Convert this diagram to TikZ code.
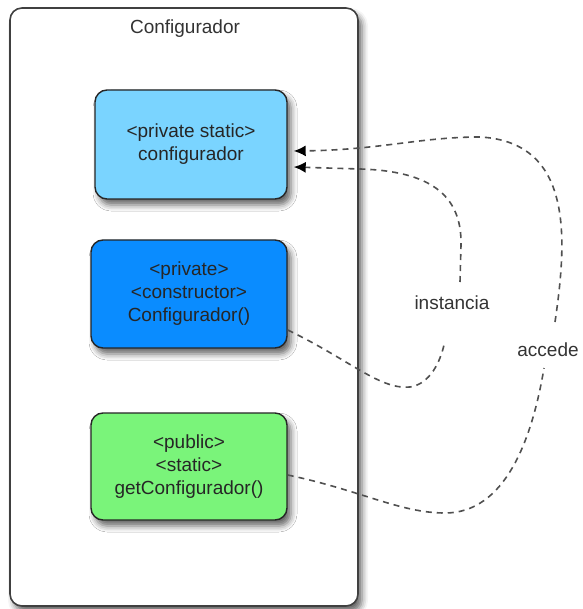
\documentclass[tikz,border=0pt]{standalone}
\usepackage{fontspec}
\setmainfont{Liberation Sans}
\usetikzlibrary{arrows.meta,shadows.blur}
\definecolor{azulClaro}{RGB}{122,212,255}
\definecolor{azulFuerte}{RGB}{10,140,255}
\definecolor{verdeClaro}{RGB}{122,244,122}
\definecolor{grisLinea}{RGB}{80,80,80}
\definecolor{grisTexto}{RGB}{51,51,51}
\tikzset{
  sombra/.style={blur shadow={shadow xshift=4pt, shadow yshift=-6pt,
      shadow blur radius=6pt, shadow opacity=60}},
  caja/.style={draw=black!85, line width=1.4pt, rounded corners=12pt,
    minimum width=196pt, minimum height=108pt, align=center,
    font=\fontsize{19}{23}\selectfont, text=black!85, sombra},
  etiqueta/.style={font=\fontsize{19}{23}\selectfont, text=grisTexto},
  enlace/.style={grisLinea, line width=1.6pt, dash pattern=on 6pt off 5pt},
  punta/.style={-{Latex[black,length=12pt,width=11pt]}}
}

\begin{document}
\begin{tikzpicture}[x=1pt,y=-1pt]
  \useasboundingbox (0,0) rectangle (582,609);
  % la clase
  \node[draw=black!75, line width=1.6pt, rounded corners=12pt, fill=white,
    minimum width=348pt, minimum height=598pt, sombra] (clase) at (184,307) {};
  \node[etiqueta] (titulo) at (185,29) {Configurador};
  % sus miembros
  \node[caja, fill=azulClaro, minimum width=192pt, minimum height=109pt]
    (atributo) at (191,144.5) {<private static>\\configurador};
  \node[caja, fill=azulFuerte] (constructor) at (189,294)
    {<private>\\<constructor>\\Configurador()};
  \node[caja, fill=verdeClaro, minimum height=107pt] (metodo) at (189,466.5)
    {<public>\\<static>\\getConfigurador()};
  % etiquetas de los enlaces
  \node[etiqueta] (instancia) at (452,303) {instancia};
  \node[etiqueta] (accede) at (548,350) {accede};
  \coordinate (instAbajo) at (444,345);
  \coordinate (instArriba) at (460,282);
  \coordinate (accAbajo) at (544,368);
  \coordinate (accArriba) at (555,322);
  \coordinate (puntaInst) at ([xshift=6pt,yshift=-22.5pt]atributo.east);
  \coordinate (puntaAcc) at ([xshift=6pt,yshift=-6.5pt]atributo.east);
  % instancia
  \draw[enlace] ([yshift=-36pt]constructor.east) .. controls (350,360) and (380,390)
    .. (410,387) .. controls (430,384) and (440,362) .. (instAbajo);
  \draw[enlace,punta] (instArriba) -- (461,245) .. controls (462,195) and (430,171)
    .. (360,169) -- (puntaInst);
  % accede
  \draw[enlace] ([yshift=-8.5pt]metodo.east) .. controls (360,490) and (400,513)
    .. (445,513) .. controls (505,513) and (532,440) .. (accAbajo);
  \draw[enlace,punta] (accArriba) .. controls (567,240) and (574,142)
    .. (480,137) .. controls (420,137) and (380,150) .. (puntaAcc);
\end{tikzpicture}
\end{document}
